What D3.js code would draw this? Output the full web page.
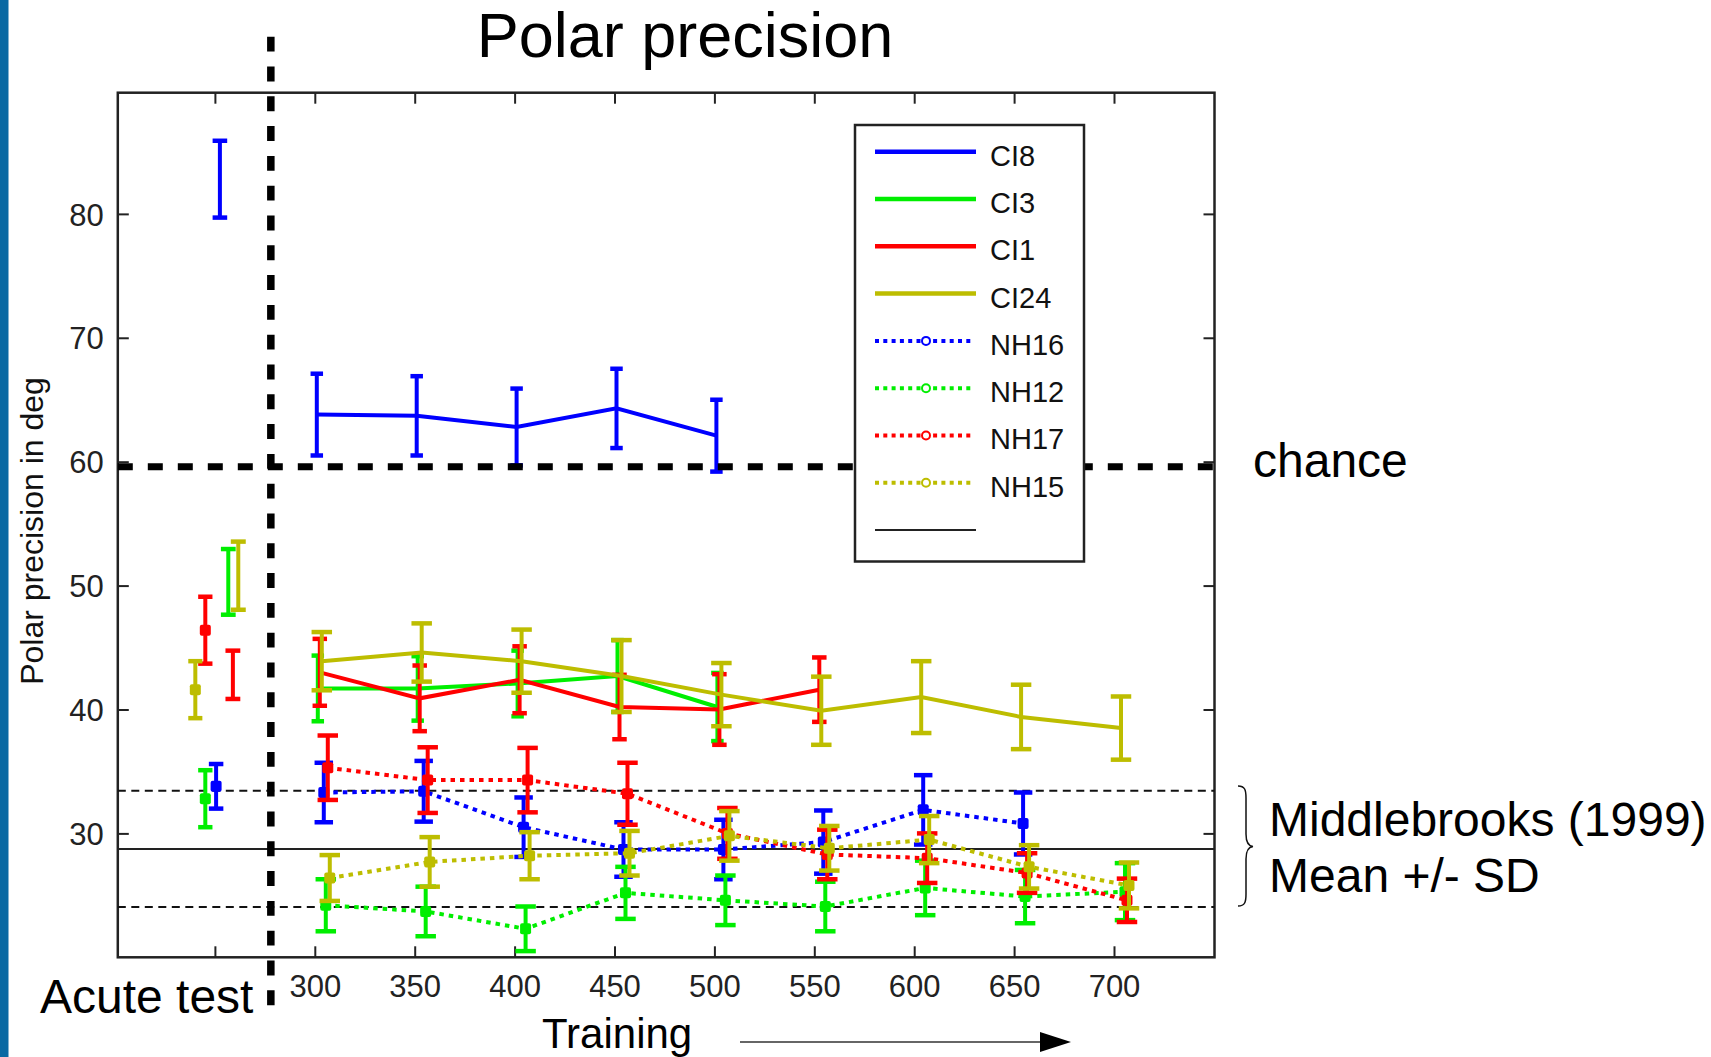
<!DOCTYPE html>
<html><head><meta charset="utf-8">
<script src="https://cdn.jsdelivr.net/npm/d3@7"></script>
<style>
body{margin:0;background:#fff;}
svg{display:block;}
text{font-family:'Liberation Sans',Arial,Helvetica,sans-serif;}
</style>
</head><body>
<svg id="chart" width="1711" height="1057"></svg>
<script>
// ---------------- data ----------------
const xTickValues = [250, 300, 350, 400, 450, 500, 550, 600, 650, 700];
const xTickLabels = ["", "300", "350", "400", "450", "500", "550", "600", "650", "700"];
const yTickValues = [30, 40, 50, 60, 70, 80];
const seriesNames = ["CI8", "CI3", "CI1", "CI24", "NH16", "NH12", "NH17", "NH15"];

const ci8X   = [301, 351, 401, 451, 501];
const ci8Y   = [63.8, 63.7, 62.8, 64.3, 62.1];
const ci8Err = [3.3, 3.2, 3.1, 3.2, 2.9];

const ci3X   = [301.5, 351.5, 401.5, 451.5, 501.5];
const ci3Y   = [41.7, 41.7, 42.1, 42.7, 40.2];
const ci3Err = [2.65, 2.6, 2.65, 2.9, 2.75];

const ci1X   = [302.5, 352.5, 402.5, 452.5, 502.5, 552.5];
const ci1Y   = [43.0, 40.9, 42.4, 40.2, 40.0, 41.6];
const ci1Err = [2.7, 2.65, 2.7, 2.6, 2.85, 2.6];

const ci24X   = [303.5, 353.5, 403.5, 453.5, 503.5, 553.5, 603.5, 653.5, 703.5];
const ci24Y   = [43.9, 44.6, 43.9, 42.7, 41.2, 39.9, 41.0, 39.4, 38.5];
const ci24Err = [2.35, 2.35, 2.55, 2.9, 2.55, 2.75, 2.9, 2.6, 2.55];

const nh16X   = [304.5, 354.5, 404.5, 454.5, 504.5, 554.5, 604.5, 654.5];
const nh16Y   = [33.3, 33.4, 30.5, 28.7, 28.7, 29.3, 31.9, 30.8];
const nh16Err = [2.4, 2.45, 2.4, 2.2, 2.4, 2.55, 2.8, 2.5];

const nh12X   = [305.5, 355.5, 405.5, 455.5, 505.5, 555.5, 605.5, 655.5, 705.5];
const nh12Y   = [24.2, 23.7, 22.3, 25.2, 24.6, 24.1, 25.6, 24.9, 25.3];
const nh12Err = [2.1, 2.0, 1.8, 2.1, 2.0, 2.0, 2.2, 2.15, 2.3];

const nh17X   = [306.5, 356.5, 406.5, 456.5, 506.5, 556.5, 606.5, 656.5, 706.5];
const nh17Y   = [35.3, 34.3, 34.3, 33.2, 30.0, 28.3, 28.0, 26.8, 24.6];
const nh17Err = [2.6, 2.65, 2.6, 2.5, 2.05, 2.0, 2.0, 1.6, 1.75];

const nh15X   = [307.5, 357.5, 407.5, 457.5, 507.5, 557.5, 607.5, 657.5, 707.5];
const nh15Y   = [26.4, 27.7, 28.2, 28.4, 29.8, 28.8, 29.5, 27.3, 25.8];
const nh15Err = [1.85, 2.0, 1.9, 1.8, 2.0, 1.8, 1.9, 1.75, 1.85];

// acute test (one point per subject)
const acuteNames = ["CI8", "CI3", "CI1", "CI24", "NH16", "NH12", "NH17", "NH15"];
const acuteX   = [252.5, 256.7, 259, 261.7, 250.6, 245.2, 245.2, 240.2];
const acuteY   = [82.8, 50.3, 42.8, 50.8, 33.8, 32.8, 46.4, 41.6];
const acuteErr = [3.1, 2.65, 1.95, 2.75, 1.8, 2.3, 2.7, 2.3];

const chanceLevel = 59.6;
const middlebrooksMean = 28.75;
const middlebrooksSD = 4.7;
const acuteBoundary = 278;   // x value of the vertical dashed separator

// ---------------- styles ----------------
const colorOf = {CI8:"#0000ff", CI3:"#00ee00", CI1:"#ff0000", CI24:"#bdbd00",
                 NH16:"#0000ff", NH12:"#00ee00", NH17:"#ff0000", NH15:"#bdbd00"};
const dottedOf = name => name.startsWith("NH");

const seriesTable = [
  {name:"CI8",  x:ci8X,  y:ci8Y,  e:ci8Err},
  {name:"CI3",  x:ci3X,  y:ci3Y,  e:ci3Err},
  {name:"CI1",  x:ci1X,  y:ci1Y,  e:ci1Err},
  {name:"CI24", x:ci24X, y:ci24Y, e:ci24Err},
  {name:"NH16", x:nh16X, y:nh16Y, e:nh16Err},
  {name:"NH12", x:nh12X, y:nh12Y, e:nh12Err},
  {name:"NH17", x:nh17X, y:nh17Y, e:nh17Err},
  {name:"NH15", x:nh15X, y:nh15Y, e:nh15Err}
];

// ---------------- layout ----------------
const svg = d3.select("#chart");
const L = 117.8, R = 1214.5, T = 92.7, B = 957.3;
const x = d3.scaleLinear().domain([201.4, 750.3]).range([L, R]);
const y = d3.scaleLinear().domain([20, 89.78]).range([B, T]);
const axisColor = "#222";

// left blue strip
svg.append("rect").attr("x",0).attr("y",0).attr("width",8.5).attr("height",1057).attr("fill","#0a69a3");

// title
svg.append("text").attr("x",685).attr("y",57).attr("text-anchor","middle")
  .attr("font-size",63).attr("fill","#000").text("Polar precision");

const plot = svg.append("g");

// axes (box with inward ticks)
const tickLen = 11;
const axB = plot.append("g").attr("transform",`translate(0,${B})`)
  .call(d3.axisBottom(x).tickValues(xTickValues).tickSizeInner(-tickLen).tickSizeOuter(0).tickPadding(18)
        .tickFormat((d,i)=>xTickLabels[i]));
const axT = plot.append("g").attr("transform",`translate(0,${T})`)
  .call(d3.axisTop(x).tickValues(xTickValues).tickSizeInner(-tickLen).tickSizeOuter(0).tickFormat(""));
const axL = plot.append("g").attr("transform",`translate(${L},0)`)
  .call(d3.axisLeft(y).tickValues(yTickValues).tickSizeInner(-tickLen).tickSizeOuter(0).tickPadding(14));
const axR = plot.append("g").attr("transform",`translate(${R},0)`)
  .call(d3.axisRight(y).tickValues(yTickValues).tickSizeInner(-tickLen).tickSizeOuter(0).tickFormat(""));
[axB,axT,axL,axR].forEach(a=>{
  a.select(".domain").remove();
  a.selectAll(".tick line").attr("stroke",axisColor).attr("stroke-width",2);
  a.selectAll(".tick text").attr("font-size",31).attr("fill","#222")
    .attr("font-family","'Liberation Sans',Arial,sans-serif");
});
axB.selectAll(".tick text").attr("dy","0.71em");
axL.selectAll(".tick text").attr("dy","0.36em");

plot.append("rect").attr("x",L).attr("y",T).attr("width",R-L).attr("height",B-T)
  .attr("fill","none").attr("stroke",axisColor).attr("stroke-width",2.5);

// Middlebrooks reference lines
const refG = plot.append("g");
[middlebrooksMean + middlebrooksSD, middlebrooksMean - middlebrooksSD].forEach(v=>{
  refG.append("line").attr("x1",L).attr("x2",R).attr("y1",y(v)).attr("y2",y(v))
    .attr("stroke","#111").attr("stroke-width",2).attr("stroke-dasharray","8 5.5");
});
refG.append("line").attr("x1",L).attr("x2",R).attr("y1",y(middlebrooksMean)).attr("y2",y(middlebrooksMean))
  .attr("stroke","#222").attr("stroke-width",2);

// error-bar helper (MATLAB style: cap half width = range/100)
function drawErrorBars(g, xs, ys, es, color, tee){
  xs.forEach((xv,i)=>{
    const yt = y(ys[i]+es[i]), yb = y(ys[i]-es[i]);
    const xl = x(xv - tee), xr = x(xv + tee), xc = x(xv);
    g.append("line").attr("x1",xc).attr("x2",xc).attr("y1",yt).attr("y2",yb)
      .attr("stroke",color).attr("stroke-width",4);
    g.append("line").attr("x1",xl).attr("x2",xr).attr("y1",yt).attr("y2",yt)
      .attr("stroke",color).attr("stroke-width",4.5).attr("stroke-linecap","square");
    g.append("line").attr("x1",xl).attr("x2",xr).attr("y1",yb).attr("y2",yb)
      .attr("stroke",color).attr("stroke-width",4.5).attr("stroke-linecap","square");
  });
}

function drawMarker(g, cx, cy, color){
  g.append("rect").attr("x",cx-5.5).attr("y",cy-5.5).attr("width",11).attr("height",11)
    .attr("rx",2).attr("fill",color);
}

const dataG = plot.append("g");
const line = d3.line().x(d=>x(d[0])).y(d=>y(d[1]));
seriesTable.forEach(s=>{
  const c = colorOf[s.name], dotted = dottedOf(s.name);
  const g = dataG.append("g");
  const tee = (d3.max(s.x) - d3.min(s.x)) / 100;
  drawErrorBars(g, s.x, s.y, s.e, c, tee);
  g.append("path").datum(s.x.map((v,i)=>[v,s.y[i]])).attr("d",line)
    .attr("fill","none").attr("stroke",c).attr("stroke-width",4)
    .attr("stroke-dasharray", dotted ? "4.5 5" : null);
  if (dotted) s.x.forEach((v,i)=>drawMarker(g, x(v), y(s.y[i]), c));
});

// acute test points
const acuteG = plot.append("g");
acuteNames.forEach((n,i)=>{
  const c = colorOf[n];
  const tee = Math.abs(acuteX[i]) / 100;
  drawErrorBars(acuteG, [acuteX[i]], [acuteY[i]], [acuteErr[i]], c, tee);
  if (dottedOf(n)) drawMarker(acuteG, x(acuteX[i]), y(acuteY[i]), c);
});

// chance line (thick dashed) and acute separator
svg.append("line").attr("x1",L).attr("x2",R).attr("y1",y(chanceLevel)).attr("y2",y(chanceLevel))
  .attr("stroke","#000").attr("stroke-width",7).attr("stroke-dasharray","15 15");
svg.append("line").attr("x1",x(acuteBoundary)).attr("x2",x(acuteBoundary)).attr("y1",36.7).attr("y2",1006)
  .attr("stroke","#000").attr("stroke-width",7.5).attr("stroke-dasharray","14.9 14.9");

// legend
const lg = svg.append("g");
lg.append("rect").attr("x",855).attr("y",125).attr("width",229).attr("height",436.5)
  .attr("fill","#fff").attr("stroke","#222").attr("stroke-width",2.5);
const legendItems = seriesNames.concat([""]);
legendItems.forEach((n,i)=>{
  const yy = 151.7 + i*47.3;
  if (n === "") {
    lg.append("line").attr("x1",875).attr("x2",976).attr("y1",yy).attr("y2",yy)
      .attr("stroke","#222").attr("stroke-width",2);
    return;
  }
  const c = colorOf[n], dotted = dottedOf(n);
  lg.append("line").attr("x1",875).attr("x2",dotted?972:976).attr("y1",yy).attr("y2",yy)
    .attr("stroke",c).attr("stroke-width",dotted?4:4.5).attr("stroke-dasharray",dotted?"4 4.3":null);
  if (dotted) {
    lg.append("circle").attr("cx",926).attr("cy",yy).attr("r",4)
      .attr("fill","#fff").attr("stroke",c).attr("stroke-width",2);
  }
  lg.append("text").attr("x",990).attr("y",yy).attr("dy","0.48em")
    .attr("font-size",29).attr("fill","#111").text(n);
});

// axis labels and annotations
svg.append("text").attr("transform","translate(43,531) rotate(-90)").attr("text-anchor","middle")
  .attr("font-size",32).attr("fill","#111").text("Polar precision in deg");
svg.append("text").attr("x",40).attr("y",1013).attr("font-size",48).attr("fill","#000").text("Acute test");
svg.append("text").attr("x",542).attr("y",1048).attr("font-size",42).attr("fill","#000").text("Training");
svg.append("line").attr("x1",740).attr("x2",1045).attr("y1",1042).attr("y2",1042)
  .attr("stroke","#333").attr("stroke-width",1.5);
svg.append("path").attr("d","M1040,1032 L1071,1042 L1040,1052 Z").attr("fill","#000");

svg.append("text").attr("x",1253).attr("y",477).attr("font-size",48).attr("fill","#000").text("chance");
svg.append("text").attr("x",1269).attr("y",836).attr("font-size",48).attr("fill","#000").text("Middlebrooks (1999)");
svg.append("text").attr("x",1269).attr("y",891.5).attr("font-size",48).attr("fill","#000").text("Mean +/- SD");
svg.append("path")
  .attr("d","M1238,786 C1245,786 1246,790 1246,798 L1246,834 C1246,842 1248,846 1253,846.5 C1248,847 1246,851 1246,859 L1246,894 C1246,902 1245,906 1238,906")
  .attr("fill","none").attr("stroke","#111").attr("stroke-width",1.5);
</script>
</body></html>
